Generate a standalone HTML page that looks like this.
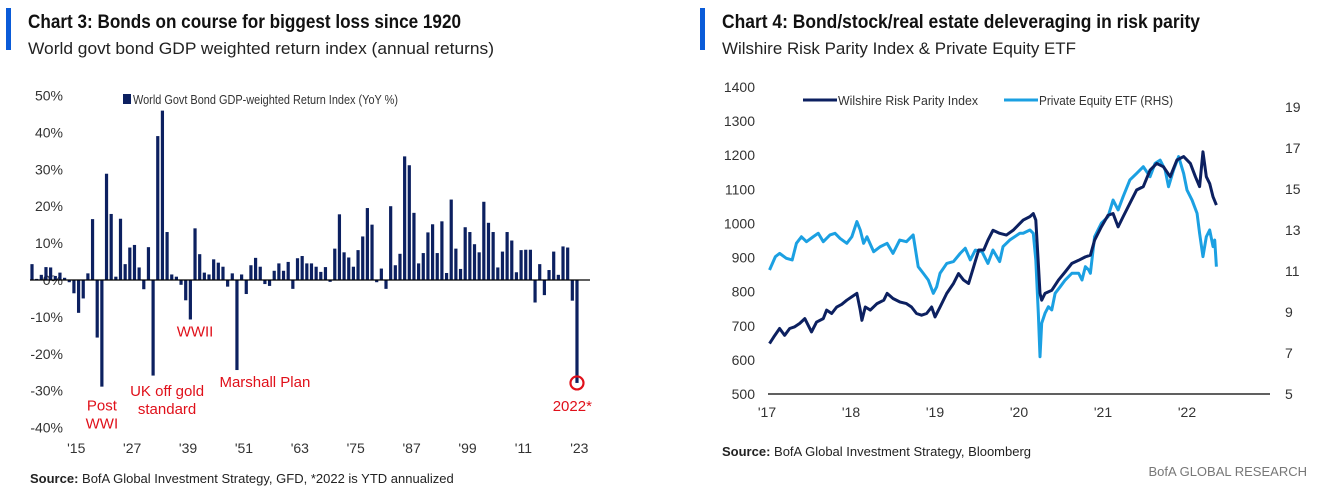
<!DOCTYPE html>
<html><head><meta charset="utf-8"><style>
body{margin:0;background:#fff;}
svg{display:block;font-family:"Liberation Sans",sans-serif;}
</style></head><body>
<svg id="s" width="1319" height="488" viewBox="0 0 1319 488" xmlns="http://www.w3.org/2000/svg">
<rect x="6" y="8" width="5" height="42" fill="#0a5bd8"/>
<text x="28" y="28" font-size="19" font-weight="bold" fill="#111" textLength="433" lengthAdjust="spacingAndGlyphs">Chart 3: Bonds on course for biggest loss since 1920</text>
<text x="28" y="54" font-size="17" fill="#222" textLength="466" lengthAdjust="spacingAndGlyphs">World govt bond GDP weighted return index (annual returns)</text>
<rect x="700" y="8" width="5" height="42" fill="#0a5bd8"/>
<text x="722" y="28" font-size="19" font-weight="bold" fill="#111" textLength="478" lengthAdjust="spacingAndGlyphs">Chart 4: Bond/stock/real estate deleveraging in risk parity</text>
<text x="722" y="54" font-size="17" fill="#222" textLength="354" lengthAdjust="spacingAndGlyphs">Wilshire Risk Parity Index &amp; Private Equity ETF</text>
<g id="c3"></g>
<g id="c4"></g>
<text x="30" y="483" font-size="13" fill="#222"><tspan font-weight="bold">Source:</tspan>  BofA Global Investment Strategy, GFD, *2022  is YTD annualized</text>
<text x="722" y="456" font-size="13" fill="#222"><tspan font-weight="bold">Source:</tspan>  BofA Global Investment Strategy, Bloomberg</text>
<text x="1307" y="476" font-size="13" fill="#777" text-anchor="end">BofA GLOBAL RESEARCH</text>
</svg>
<script>
const NS="http://www.w3.org/2000/svg";
// ---- Chart 3 data ----
const bondStartYear=1905;
const bondReturns=[4.3,0.3,1.4,3.5,3.4,1.1,2,0.6,-0.6,-3.6,-8.9,-5,1.8,16.5,-15.6,-28.9,28.8,17.9,0.9,16.6,4.3,8.8,9.5,3.4,-2.5,8.9,-25.9,39,45.9,13,1.5,0.9,-1.3,-5.5,-10.7,14,7,2,1.5,5.6,4.7,3.6,-1.8,1.8,-24.4,1.5,-3.8,4,6,3.6,-1.1,-1.6,2.5,4.5,2.5,4.9,-2.4,5.9,
6.5,4.5,4.5,3.6,2.2,3.5,-0.5,8.5,17.8,7.5,6.1,3.6,8.1,11.8,19.5,15,-0.6,3.1,-2.4,20,4,7.1,33.5,31.1,18.2,4.5,7.3,12.9,15.1,7.3,15.9,1.9,21.8,8.5,3,14.3,13,9.7,7.5,21.2,15.5,13,3.4,7.7,13,10.7,2.1,8.1,8.2,8.2,-6.1,4.3,-4.1,2.7,7.7,1.4,9.1,8.8,-5.6,-27.9];
const bondTicks=[-40,-30,-20,-10,0,10,20,30,40,50];
const bondYearTicks=[1915,1927,1939,1951,1963,1975,1987,1999,2011,2023];
const bondYearLabels=["'15","'27","'39","'51","'63","'75","'87","'99","'11","'23"];
const annotations=[{t:["Post","WWI"],year:1920,y:-35.3},{t:["UK off gold","standard"],year:1934,y:-31.5},{t:["WWII"],year:1940,y:-15.3},{t:["Marshall Plan"],year:1955,y:-29},{t:["2022*"],year:2021,y:-35.5}];
// ---- Chart 4 data ----
const wDates=[2017.03,2017.08,2017.15,2017.21,2017.27,2017.33,2017.39,2017.45,2017.51,2017.53,2017.59,2017.67,2017.71,2017.77,2017.83,2017.89,2017.95,2018.01,2018.07,2018.11,2018.13,2018.17,2018.23,2018.31,2018.39,2018.43,2018.50,2018.58,2018.66,2018.72,2018.78,2018.84,2018.90,2018.96,2019.00,2019.06,2019.14,2019.22,2019.28,2019.34,2019.40,2019.46,2019.52,2019.58,2019.63,2019.69,2019.77,2019.85,2019.93,2020.01,2020.05,2020.13,2020.17,2020.20,2020.23,2020.25,2020.27,2020.31,2020.39,2020.47,2020.55,2020.63,2020.71,2020.79,2020.85,2020.90,2020.98,2021.06,2021.12,2021.18,2021.24,2021.32,2021.40,2021.48,2021.56,2021.64,2021.72,2021.80,2021.88,2021.96,2022.04,2022.10,2022.15,2022.19,2022.23,2022.27,2022.31,2022.35];
const wValues=[648,667,692,672,692,697,707,721,692,682,711,721,746,736,755,763,775,785,795,746,716,755,746,765,775,795,780,770,765,755,736,731,736,755,726,755,795,824,853,834,824,873,922,922,951,980,971,966,980,1000,1010,1020,1029,1010,883,795,775,795,804,834,858,883,892,902,907,951,990,1024,1029,990,1020,1059,1098,1108,1156,1176,1166,1137,1186,1196,1176,1137,1108,1210,1137,1117,1078,1054];
const pDates=[2017.03,2017.10,2017.15,2017.23,2017.30,2017.35,2017.41,2017.47,2017.55,2017.61,2017.67,2017.75,2017.81,2017.87,2017.95,2018.01,2018.07,2018.11,2018.15,2018.19,2018.27,2018.35,2018.43,2018.50,2018.58,2018.66,2018.74,2018.80,2018.86,2018.92,2018.98,2019.02,2019.06,2019.14,2019.22,2019.30,2019.36,2019.42,2019.48,2019.56,2019.63,2019.69,2019.77,2019.81,2019.89,2020.01,2020.05,2020.13,2020.17,2020.20,2020.23,2020.25,2020.27,2020.31,2020.35,2020.39,2020.43,2020.49,2020.55,2020.63,2020.71,2020.75,2020.79,2020.83,2020.85,2020.90,2020.98,2021.06,2021.12,2021.18,2021.24,2021.32,2021.40,2021.48,2021.56,2021.62,2021.68,2021.74,2021.78,2021.84,2021.90,2021.96,2022.00,2022.06,2022.12,2022.15,2022.19,2022.23,2022.27,2022.31,2022.33,2022.35];
const pValues=[11.05,11.7,11.86,11.62,11.54,12.35,12.67,12.43,12.67,12.84,12.43,12.76,12.84,12.59,12.35,12.67,13.41,13.0,12.35,12.67,11.94,12.19,12.35,11.86,12.51,12.43,12.76,11.21,10.89,10.56,9.91,10.23,10.89,11.37,11.46,11.86,12.11,11.54,12.02,11.94,11.37,12.02,11.46,12.19,12.51,12.84,12.84,13.0,12.84,11.54,8.94,6.82,8.45,8.94,9.26,9.1,9.91,10.23,10.56,10.89,10.89,10.56,11.21,11.05,10.89,12.67,13.33,13.65,14.46,13.98,14.63,15.44,15.76,16.09,15.6,16.25,16.41,15.93,15.11,15.93,16.58,15.76,14.95,14.46,13.81,12.84,11.7,12.67,13.0,12.19,12.51,11.21];
const leftTicks=[500,600,700,800,900,1000,1100,1200,1300,1400];
const rightTicks=[5,7,9,11,13,15,17,19];
const yearTicks=[2017,2018,2019,2020,2021,2022];
const yearLabels=["'17","'18","'19","'20","'21","'22"];

function mk(tag,attrs,parent,txt){const e=document.createElementNS(NS,tag);for(const k in attrs)e.setAttribute(k,attrs[k]);if(txt!==undefined)e.textContent=txt;parent.appendChild(e);return e;}

// Chart 3
const c3=document.getElementById('c3');
const bx=y=>32+(y-bondStartYear)*4.658;
const by=v=>280-v*3.69;
bondTicks.forEach(t=>{const e=mk('text',{x:63,y:by(t)+5,'font-size':14,fill:'#333','text-anchor':'end'},c3,t+'%');

});
bondYearTicks.forEach((t,i)=>{const e=mk('text',{x:bx(t-0.5),y:453,'font-size':14,fill:'#333','text-anchor':'middle'},c3,bondYearLabels[i]);

});
bondReturns.forEach((v,i)=>{const x=bx(bondStartYear+i);const r=mk('rect',{x:x-1.6,y:Math.min(by(v),by(0)),width:3.2,height:Math.abs(by(v)-by(0)),fill:'#0c2060'},c3);

});
const zl=mk('line',{x1:30,x2:590,y1:by(0),y2:by(0),stroke:'#000','stroke-width':1.3},c3);


const lg=mk('rect',{x:123,y:94,width:8,height:10,fill:'#0c2060'},c3);


const lt=mk('text',{x:133,y:104,'font-size':13,fill:'#333',textLength:265,lengthAdjust:'spacingAndGlyphs'},c3,'World Govt Bond GDP-weighted Return Index (YoY %)');


annotations.forEach(a=>{a.t.forEach((s,j)=>{const e=mk('text',{x:bx(a.year),y:by(a.y)+j*18,'font-size':15,fill:'#e0101a','text-anchor':'middle'},c3,s);

});});
const last=bondReturns[bondReturns.length-1];
const cc=mk('circle',{cx:bx(bondStartYear+bondReturns.length-1),cy:by(last),r:6.5,fill:'none',stroke:'#e0101a','stroke-width':2.2},c3);



// Chart 4
const c4=document.getElementById('c4');
const tx=d=>767+(d-2017)*84;
const ly=v=>394-(v-500)*(307/900);
const ry=v=>394-(v-5)*(287/14);
leftTicks.forEach(t=>{const e=mk('text',{x:755,y:ly(t)+5,'font-size':14,fill:'#333','text-anchor':'end'},c4,t);

});
rightTicks.forEach(t=>{const e=mk('text',{x:1285,y:ry(t)+5,'font-size':14,fill:'#333'},c4,t);

});
yearTicks.forEach((t,i)=>{const e=mk('text',{x:tx(t),y:417,'font-size':14,fill:'#333','text-anchor':'middle'},c4,yearLabels[i]);

});
const ax=mk('line',{x1:768,x2:1270,y1:394,y2:394,stroke:'#000','stroke-width':1.3},c4);


const pp=mk('polyline',{points:pDates.map((d,i)=>tx(d)+','+ry(pValues[i])).join(' '),fill:'none',stroke:'#1ba0e2','stroke-width':3,'stroke-linejoin':'round'},c4);


const wp=mk('polyline',{points:wDates.map((d,i)=>tx(d)+','+ly(wValues[i])).join(' '),fill:'none',stroke:'#0c2060','stroke-width':3,'stroke-linejoin':'round'},c4);


const l1=mk('line',{x1:803,x2:837,y1:100,y2:100,stroke:'#0c2060','stroke-width':3},c4);


const t1=mk('text',{x:838,y:105,'font-size':13,fill:'#333',textLength:140,lengthAdjust:'spacingAndGlyphs'},c4,'Wilshire Risk Parity Index');


const l2=mk('line',{x1:1004,x2:1038,y1:100,y2:100,stroke:'#1ba0e2','stroke-width':3},c4);


const t2=mk('text',{x:1039,y:105,'font-size':13,fill:'#333',textLength:134,lengthAdjust:'spacingAndGlyphs'},c4,'Private Equity ETF (RHS)');


</script>
</body></html>
